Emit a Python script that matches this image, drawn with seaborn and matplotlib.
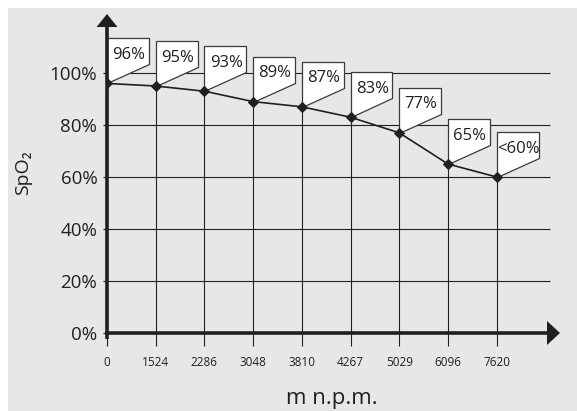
import matplotlib
matplotlib.use("Agg")
import matplotlib.pyplot as plt
import seaborn as sns
import pandas as pd
from matplotlib.patches import Polygon, Rectangle

altitudes = ["0", "1524", "2286", "3048", "3810", "4267", "5029", "6096", "7620"]
spo2 = [96, 95, 93, 89, 87, 83, 77, 65, 60]
flag_labels = ["96%", "95%", "93%", "89%", "87%", "83%", "77%", "65%", "<60%"]
y_ticks = [0, 20, 40, 60, 80, 100]
y_ticklabels = ["0%", "20%", "40%", "60%", "80%", "100%"]

sns.set_style("white")
plt.rcParams["font.family"] = ["Open Sans", "DejaVu Sans"]

ink = "#231f20"
bg = "#e6e7e9"

df = pd.DataFrame({"pos": list(range(len(altitudes))), "spo2": spo2, "alt": altitudes})

fig = plt.figure(figsize=(5.77, 4.11), dpi=100)
fig.patch.set_facecolor("white")
fig.patches.append(Rectangle((8 / 577, 0), 1, 1 - 8 / 411, transform=fig.transFigure,
                             facecolor=bg, edgecolor="none", zorder=-10))

ax = fig.add_axes([107 / 577, 78 / 411, 453 / 577, 319 / 411])
ax.set_zorder(1)
ax.set_facecolor("none")
XMAX = 9.3
YMAX = 122.7
ax.set_xlim(0, XMAX)
ax.set_ylim(0, YMAX)
for s in ax.spines.values():
    s.set_visible(False)

# horizontal grid lines
ax.hlines([v for v in y_ticks if v > 0], 0, 9.1, color=ink, lw=0.8, zorder=1)
# vertical lines from axis up to points
ax.vlines(df["pos"], 0, df["spo2"], color=ink, lw=0.8, zorder=1)

# flag labels
fw, ftop, fbot = 0.86, 17.3, 7.3
for x, y, lab in zip(df["pos"], df["spo2"], flag_labels):
    poly = Polygon([(x, y), (x, y + ftop), (x + fw, y + ftop), (x + fw, y + fbot)],
                   closed=True, facecolor="white", edgecolor="#3a3a3a", lw=0.9, zorder=3)
    ax.add_patch(poly)
    ax.text(x + fw / 2 + 0.02, y + 11.7, lab, ha="center", va="center_baseline",
            fontsize=12, color=ink, zorder=5)

sns.lineplot(data=df, x="pos", y="spo2", ax=ax, color=ink, lw=1.2, marker="D",
             markersize=5, markeredgecolor=ink, zorder=4)

# axes with arrows
px_x = 453 / XMAX  # px per x unit
px_y = 319 / YMAX  # px per y unit
ax.plot([0, 0], [-2.2, YMAX - 12 / px_y], color=ink, lw=2.6, solid_capstyle="butt",
        clip_on=False, zorder=6)
ax.plot([-2 / px_x, XMAX - 12 / px_x], [0, 0], color=ink, lw=2.6, solid_capstyle="butt",
        clip_on=False, zorder=6)
hw_y = 10.5 / px_x
ax.add_patch(Polygon([(-hw_y, YMAX - 13 / px_y), (hw_y, YMAX - 13 / px_y), (0, YMAX)],
                     closed=True, facecolor=ink, edgecolor="none", clip_on=False, zorder=7))
hh_x = 12 / px_y
ax.add_patch(Polygon([(XMAX - 13 / px_x, -hh_x), (XMAX - 13 / px_x, hh_x), (XMAX, 0)],
                     closed=True, facecolor=ink, edgecolor="none", clip_on=False, zorder=7))

ax.set_xticks(df["pos"])
ax.set_xticklabels(altitudes, fontsize=8.5, color=ink)
ax.tick_params(axis="x", length=9.5, width=0.8, color=ink, pad=7, bottom=True)
ax.set_yticks(y_ticks)
ax.set_yticklabels(y_ticklabels, fontsize=13.5, color=ink)
ax.tick_params(axis="y", length=3, width=0.9, color=ink, pad=4, left=True)

ax.set_xlabel("m n.p.m.", fontsize=16, color=ink, va="baseline")
ax.xaxis.set_label_coords((332 - 107) / 453, -(404 - 333) / 319)
ax.set_ylabel("SpO₂", fontsize=14, color=ink)
ax.yaxis.set_label_coords(-(107 - 32) / 453, (333 - 172.5) / 319)

fig.savefig("out.png", dpi=100, facecolor=fig.get_facecolor())
